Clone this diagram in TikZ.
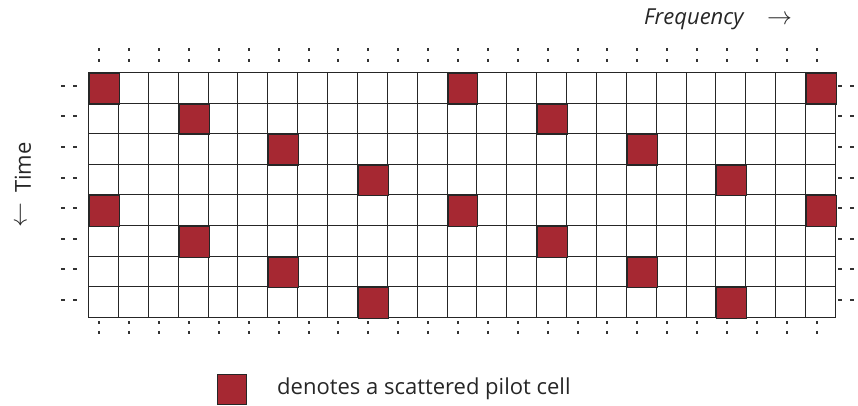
\documentclass[tikz,border=0pt]{standalone}
\usepackage{fontspec}
\setmainfont{Open Sans}
\definecolor{pilot}{RGB}{166,40,50}
\begin{document}
\begin{tikzpicture}[x=1pt,y=-1pt,
  cellbox/.style={inner sep=0pt,anchor=north west},
  gridline/.style={draw=black!85,line width=1.3pt},
  pilotbox/.style={draw=black!85,line width=1.3pt,fill=pilot,inner sep=0pt,anchor=north west},
  dotmark/.style={line width=1.8pt,black!80},
  dashmark/.style={line width=1.4pt,black!80},
  lbl/.style={inner sep=0pt,font=\fontsize{22}{26}\selectfont,text=black!85},
  arr/.style={inner sep=0pt,font=\fontsize{28}{30}\selectfont,text=black!85}]
\useasboundingbox (0,0) rectangle (858,406);
\def\xo{88}\def\yo{72}\def\cw{29.88}\def\ch{30.6}
% cells (named)
\foreach \r in {0,...,7}{
  \foreach \c in {0,...,24}{
    \node[cellbox,minimum width=\cw pt,minimum height=\ch pt]
      (c-\r-\c) at ({\xo+\c*\cw},{\yo+\r*\ch}) {};
  }
}
% grid lines (snapped to pixel centres)
\foreach \c in {0,...,25}{
  \pgfmathsetmacro{\gx}{round(\xo+\c*\cw)+0.5}
  \draw[gridline] (\gx,{\yo+0.5}) -- (\gx,{round(\yo+8*\ch)+0.5});
}
\foreach \r in {0,...,8}{
  \pgfmathsetmacro{\gy}{round(\yo+\r*\ch)+0.5}
  \draw[gridline] ({\xo+0.5},\gy) -- ({round(\xo+25*\cw)+0.5},\gy);
}
% pilots
\foreach \r/\c in {0/0,0/12,0/24,1/3,1/15,2/6,2/18,3/9,3/21,4/0,4/12,4/24,5/3,5/15,6/6,6/18,7/9,7/21}{
  \pgfmathsetmacro{\px}{round(\xo+\c*\cw)+0.5}
  \pgfmathsetmacro{\py}{round(\yo+\r*\ch)+0.5}
  \pgfmathsetmacro{\pw}{round(\xo+(\c+1)*\cw)-round(\xo+\c*\cw)}
  \pgfmathsetmacro{\ph}{round(\yo+(\r+1)*\ch)-round(\yo+\r*\ch)}
  \node[pilotbox,minimum width=\pw pt,minimum height=\ph pt]
    (p-\r-\c) at (\px,\py) {};
}
% top and bottom dots
\foreach \c in {0,...,24}{
  \pgfmathsetmacro{\xx}{round(\xo+(\c+0.5)*\cw-3.5)}
  \draw[dotmark] (\xx,48.5) -- (\xx,51.5);
  \draw[dotmark] (\xx,59) -- (\xx,62);
  \draw[dotmark] (\xx,321.2) -- (\xx,324.2);
  \draw[dotmark] (\xx,330.8) -- (\xx,333.8);
}
% side dashes
\foreach \r in {0,...,7}{
  \pgfmathsetmacro{\yy}{round(\yo+(\r+0.5)*\ch-1.5)}
  \draw[dashmark] (61,\yy) -- (65,\yy);
  \draw[dashmark] (73,\yy) -- (77,\yy);
  \draw[dashmark] (838,\yy) -- (842,\yy);
  \draw[dashmark] (850,\yy) -- (854,\yy);
}
% labels
\node[lbl,anchor=west] (freq) at (644,19) {\itshape Frequency};
\node[arr,anchor=west] (farrow) at (767,20) {$\rightarrow$};
\node[arr,rotate=90,anchor=west] (tarrow) at (22,228) {$\leftarrow$};
\node[lbl,rotate=90,anchor=west] (time) at (23,193) {Time};
% legend
\node[pilotbox,minimum width=29pt,minimum height=30pt] (leg) at (217,374) {};
\node[lbl,anchor=west] (legtxt) at (277,389) {denotes a scattered pilot cell};
\end{tikzpicture}
\end{document}
